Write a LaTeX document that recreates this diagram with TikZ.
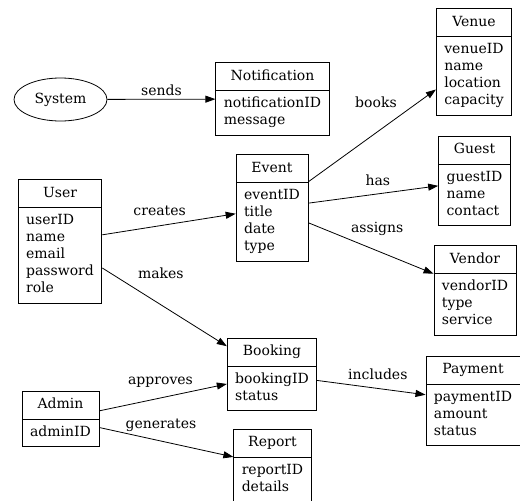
\documentclass[tikz,border=0pt]{standalone}
\usepackage{fontspec}
\setmainfont{DejaVu Serif}
\usetikzlibrary{shapes.multipart,shapes.geometric,arrows.meta}

\begin{document}
\begin{tikzpicture}[x=1pt,y=-1pt,font=\fontsize{14}{17}\selectfont]
      \useasboundingbox (0,0) rectangle (520,501);

      \node[ellipse,draw,line width=0.8pt,minimum width=93pt,minimum height=43pt] (system) at (60.5,99.5) {System};

      \begin{scope}[every node/.style={rectangle split,rectangle split parts=2,draw,
          line width=0.8pt,inner xsep=8pt,inner ysep=5pt,align=left,
          rectangle split part align={center,left}}]
        \node (notification) at (272.5,99) {\strut Notification\nodepart{two}\strut notificationID\\ message\strut};
        \node (venue) at (474,62) {\strut Venue\nodepart{two}\strut venueID\\ name\\ location\\ capacity\strut};
        \node (event) at (272,208) {\strut Event\nodepart{two}\strut eventID\\ title\\ date\\ type\strut};
        \node (guest) at (474.5,181) {\strut Guest\nodepart{two}\strut guestID\\ name\\ contact\strut};
        \node (user) at (60,241.5) {\strut User\nodepart{two}\strut userID\\ name\\ email\\ password\\ role\strut};
        \node (vendor) at (475,290.5) {\strut Vendor\nodepart{two}\strut vendorID\\ type\\ service\strut};
        \node (booking) at (272,374.5) {\strut Booking\nodepart{two}\strut bookingID\\ status\strut};
        \node (admin) at (60.5,419) {\strut Admin\nodepart{two}\strut adminID\strut};
        \node (report) at (272.5,465.5) {\strut Report\nodepart{two}\strut reportID\\ details\strut};
        \node (payment) at (473,401) {\strut Payment\nodepart{two}\strut paymentID\\ amount\\ status\strut};
      \end{scope}

      \begin{scope}[>={Triangle[length=10pt,width=7pt]},
          rel/.style={draw,line width=0.8pt,->},
          every node/.style={anchor=base,inner sep=0pt}]
        \draw[rel] (system) -- node[pos=.5,yshift=4pt] (sends) {sends} (notification);
        \draw[rel] (event) -- node[pos=.53,yshift=25pt] (books) {books} (venue);
        \draw[rel] (event) -- node[pos=.535,yshift=8pt] (has) {has} (guest);
        \draw[rel] (event) -- node[pos=.55,yshift=18pt] (assigns) {assigns} (vendor);
        \draw[rel] (user) -- node[pos=.43,yshift=10pt] (creates) {creates} (event);
        \draw[rel] (user) -- node[pos=.47,yshift=26pt] (makes) {makes} (booking);
        \draw[rel] (admin) -- node[pos=.48,yshift=13pt] (approves) {approves} (booking);
        \draw[rel] (admin) -- node[pos=.46,yshift=13pt] (generates) {generates} (report);
        \draw[rel] (booking) -- node[pos=.56,yshift=8.5pt] (includes) {includes} (payment);
      \end{scope}
    \end{tikzpicture}
\end{document}
